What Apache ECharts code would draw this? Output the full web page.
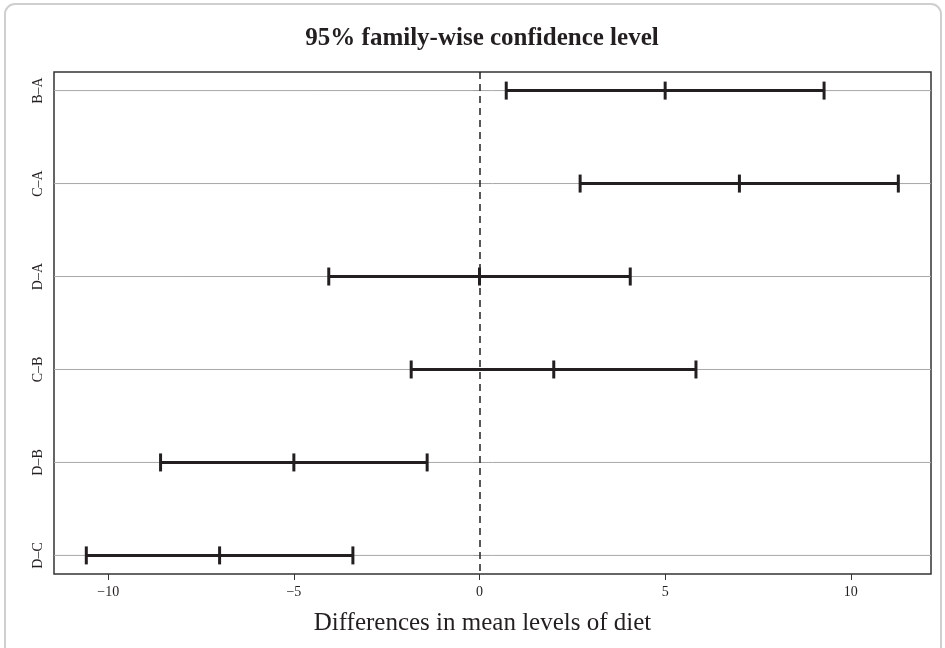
<!DOCTYPE html>
<html>
<head>
<meta charset="utf-8">
<script src="https://cdn.jsdelivr.net/npm/echarts@6/dist/echarts.min.js"></script>
<style>
  html, body { margin: 0; padding: 0; background: #fff; }
  #chart { width: 945px; height: 648px; }
</style>
</head>
<body>
<div id="chart"></div>
<script>
// Tukey HSD pairwise comparisons of diet groups
const comparisons = ['B–A', 'C–A', 'D–A', 'C–B', 'D–B', 'D–C'];
const diffs  = [5.0, 7.0, 0.0, 2.0, -5.0, -7.0];
const lowers = [0.72, 2.71, -4.06, -1.84, -8.59, -10.59];
const uppers = [9.28, 11.28, 4.06, 5.83, -1.41, -3.41];
const xTicks = [-10, -5, 0, 5, 10];

const rowIndex = comparisons.map((_, i) => i + 1);
const intervalData = comparisons.map((_, i) => [lowers[i], diffs[i], uppers[i], rowIndex[i]]);

const FONT = '"Liberation Serif", "DejaVu Serif", serif';
const INK = '#231f20';

const chart = echarts.init(document.getElementById('chart'), null, { renderer: 'canvas' });

chart.setOption({
  backgroundColor: '#ffffff',
  animation: false,
  title: {
    text: '95% family-wise confidence level',
    left: 477,
    top: 21,
    textAlign: 'center',
    textStyle: { fontFamily: FONT, fontSize: 25, fontWeight: 'bold', color: INK }
  },
  graphic: [{
    type: 'rect',
    silent: true,
    z: -10,
    shape: { x: 5, y: 4, width: 936, height: 700, r: 10 },
    style: { fill: 'none', stroke: '#cfcfcf', lineWidth: 2 }
  }],
  grid: {
    left: 54, right: 14, top: 72, bottom: 74,
    show: true, borderColor: '#333', borderWidth: 1.5, backgroundColor: 'transparent'
  },
  xAxis: {
    type: 'value',
    min: -11.46, max: 12.16,
    name: 'Differences in mean levels of diet',
    nameLocation: 'middle',
    nameGap: 37,
    nameTextStyle: { fontFamily: FONT, fontSize: 25, color: INK, padding: [0, 20, 0, 0] },
    axisLine: { show: false },
    axisTick: { show: true, length: 6, lineStyle: { color: '#333', width: 1 }, customValues: xTicks },
    axisLabel: {
      customValues: xTicks, margin: 11,
      fontFamily: FONT, fontSize: 14, color: INK,
      formatter: v => (v < 0 ? '−' + Math.abs(v) : String(v))
    },
    splitLine: { show: false }
  },
  yAxis: {
    type: 'value',
    inverse: true,
    min: 0.8, max: 6.2,
    axisLine: { show: false },
    axisTick: { show: true, length: 6, lineStyle: { color: '#333', width: 1 }, customValues: rowIndex },
    axisLabel: {
      customValues: rowIndex, rotate: 90, margin: 9,
      fontFamily: FONT, fontSize: 14, color: INK,
      formatter: v => comparisons[Math.round(v) - 1] || ''
    },
    splitLine: { show: false }
  },
  series: [
    {
      // horizontal reference line for each comparison
      type: 'custom',
      z: 1,
      silent: true,
      data: rowIndex.map(r => [0, r]),
      encode: { x: 0, y: 1 },
      renderItem: function (params, api) {
        const cs = params.coordSys;
        const y = api.coord([0, api.value(1)])[1];
        return {
          type: 'line',
          shape: { x1: cs.x, y1: y, x2: cs.x + cs.width, y2: y },
          style: { stroke: '#a8a8a8', lineWidth: 1 }
        };
      },
      markLine: {
        silent: true,
        symbol: 'none',
        label: { show: false },
        lineStyle: { color: '#222', width: 1.5, type: [7, 5] },
        data: [{ xAxis: 0 }],
        z: 2
      }
    },
    {
      // confidence interval bars with end caps and centre tick
      type: 'custom',
      z: 5,
      silent: true,
      data: intervalData,
      encode: { x: [0, 1, 2], y: 3 },
      renderItem: function (params, api) {
        const row = api.value(3);
        const pLo = api.coord([api.value(0), row]);
        const pMid = api.coord([api.value(1), row]);
        const pHi = api.coord([api.value(2), row]);
        const h = 9;
        const st = { stroke: INK, lineWidth: 3 };
        return {
          type: 'group',
          children: [
            { type: 'line', shape: { x1: pLo[0], y1: pLo[1], x2: pHi[0], y2: pHi[1] }, style: st },
            { type: 'line', shape: { x1: pLo[0], y1: pLo[1] - h, x2: pLo[0], y2: pLo[1] + h }, style: st },
            { type: 'line', shape: { x1: pMid[0], y1: pMid[1] - h, x2: pMid[0], y2: pMid[1] + h }, style: st },
            { type: 'line', shape: { x1: pHi[0], y1: pHi[1] - h, x2: pHi[0], y2: pHi[1] + h }, style: st }
          ]
        };
      }
    }
  ]
});
</script>
</body>
</html>
